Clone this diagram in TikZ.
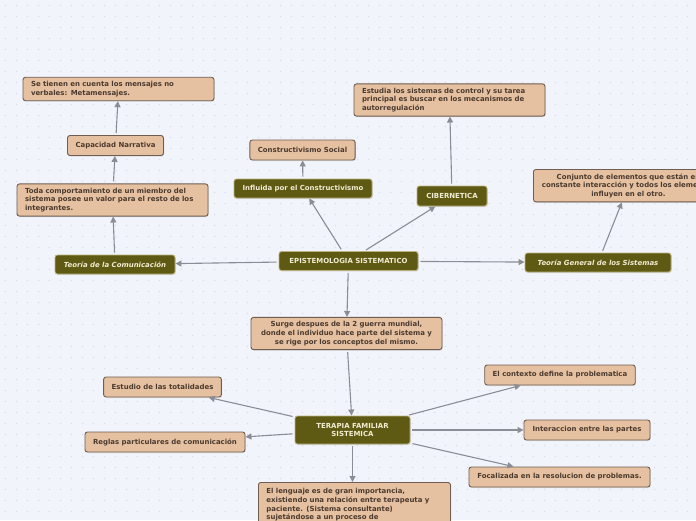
\documentclass[tikz,border=0pt]{standalone}
\usepackage{fontspec}
\setmainfont{DejaVu Sans}
\usepackage{xcolor}
\usepackage{tikz}
\usetikzlibrary{arrows.meta,shadows}
\makeatletter
\renewcommand\small{%
  \@setfontsize\small{6.95pt}{8.7pt}%
}
\makeatother
\definecolor{fondo}{HTML}{F2F4FB}
\definecolor{punto}{HTML}{DCDFEB}
\definecolor{hojafill}{HTML}{E6C1A1}
\definecolor{hojaline}{HTML}{6E5D50}
\definecolor{hojatext}{HTML}{4A3A2E}
\definecolor{olivo}{HTML}{5E5A14}
\definecolor{olivoline}{HTML}{B8B27A}
\definecolor{olivotext}{HTML}{F2ECD2}
\definecolor{enlacegris}{HTML}{8A8D96}

\begin{document}
\begin{tikzpicture}[x=1pt, y=-1pt, >={Triangle[width=6pt,length=6pt]},
  every node/.style={font=\small\bfseries},
  hoja/.style={draw=hojaline, fill=hojafill, text=hojatext, rounded corners=2.5pt,
    line width=0.9pt, inner xsep=8pt, inner ysep=4pt, minimum height=20pt,
    drop shadow={opacity=0.2, shadow xshift=0.8pt, shadow yshift=-1pt}},
  rama/.style={draw=olivoline, fill=olivo, text=olivotext, rounded corners=2.5pt,
    line width=0.9pt, inner xsep=6pt, inner ysep=4pt, minimum height=19pt,
    drop shadow={opacity=0.2, shadow xshift=0.8pt, shadow yshift=-1pt}},
  enlace/.style={draw=enlacegris, line width=1.1pt, ->, shorten <=2pt}]
  \useasboundingbox (0,0) rectangle (696,520);
  \clip (0,0) rectangle (696,520);
  % fondo punteado
  \fill[fondo] (0,0) rectangle (696,520);
  \foreach \i in {0,...,63}
    \foreach \j in {0,...,47}
      \fill[punto] (5.5+11*\i, 5.5+11*\j) circle (0.9);

  % centro
  \node[rama, minimum width=139pt] (episte) at (348.5,261) {EPISTEMOLOGIA SISTEMATICO};
  \node[rama, minimum width=120pt, font=\small\bfseries\itshape] (comunic) at (115,264.5) {Teoría de la Comunicación};
  \node[rama, minimum width=146pt, font=\small\bfseries\itshape] (tgs) at (598,262.5) {Teoría General de los Sistemas};
  \node[rama, minimum width=138pt] (influida) at (303,188.5) {Influida por el Constructivismo};
  \node[rama, minimum width=70pt, minimum height=20pt] (ciber) at (452,196) {CIBERNETICA};

  % rama izquierda
  \node[hoja, text width=175pt, align=left] (toda) at (112.5,200) {Toda comportamiento de un miembro del\\sistema posee un valor para el resto de los\\integrantes.};
  \node[hoja, minimum width=95pt] (narrativa) at (115.5,145.5) {Capacidad Narrativa};
  \node[hoja, text width=175pt, align=left] (metamens) at (118.5,89) {Se tienen en cuenta los mensajes no\\verbales: Metamensajes.};

  % rama superior
  \node[hoja, minimum width=105pt] (constsoc) at (302.5,150) {Constructivismo Social};
  \node[hoja, text width=175pt, align=left] (estudia) at (449.5,100) {Estudia los sistemas de control y su tarea\\principal es buscar en los mecanismos de\\autorregulación};
  \node[hoja, text width=174pt, align=center, anchor=north west] (conjunto) at (533,169) {Conjunto de elementos que están en\\constante interacción y todos los elementos\\influyen en el otro.};

  % rama inferior
  \node[hoja, text width=175pt, align=center] (surge) at (346.5,333.5) {Surge despues de la 2 guerra mundial,\\donde el individuo hace parte del sistema y\\se rige por los conceptos del mismo.};
  \node[rama, minimum width=115pt, minimum height=28pt, align=center, inner ysep=3pt] (terapia) at (352.5,430) {TERAPIA FAMILIAR\\SISTEMICA};
  \node[hoja, minimum width=117pt] (totalid) at (162.5,387) {Estudio de las totalidades};
  \node[hoja, minimum width=160pt] (reglas) at (165,442) {Reglas particulares de comunicación};
  \node[hoja, text width=176pt, align=left, anchor=north west, inner ysep=6pt] (lenguaje) at (258,482) {El lenguaje es de gran importancia,\\existiendo una relación entre terapeuta y\\paciente. (Sistema consultante)\\sujetándose a un proceso de};
  \node[hoja, minimum width=150pt] (contexto) at (560,375) {El contexto define la problematica};
  \node[hoja, minimum width=126pt] (interacc) at (587,430) {Interaccion entre las partes};
  \node[hoja, minimum width=181pt] (focaliz) at (559.5,477) {Focalizada en la resolucion de problemas.};

  % conectores
  \draw[enlace] (episte) -- (comunic);
  \draw[enlace] (episte) -- (tgs);
  \draw[enlace] (episte) -- (influida);
  \draw[enlace] (episte) -- (ciber);
  \draw[enlace] (episte) -- (surge);
  \draw[enlace] (comunic) -- (toda);
  \draw[enlace] (toda) -- (narrativa);
  \draw[enlace] (narrativa) -- (metamens);
  \draw[enlace] (influida) -- (constsoc);
  \draw[enlace] (ciber) -- (estudia);
  \draw[enlace] (tgs) -- (conjunto);
  \draw[enlace] (surge) -- (terapia);
  \draw[enlace] (terapia) -- (totalid);
  \draw[enlace] (terapia) -- (reglas);
  \draw[enlace] (terapia.south) -- (lenguaje.north -| terapia.south);
  \draw[enlace] (terapia) -- (contexto);
  \draw[enlace] (terapia) -- (interacc);
  \draw[enlace] (terapia) -- (focaliz);
\end{tikzpicture}
\end{document}
